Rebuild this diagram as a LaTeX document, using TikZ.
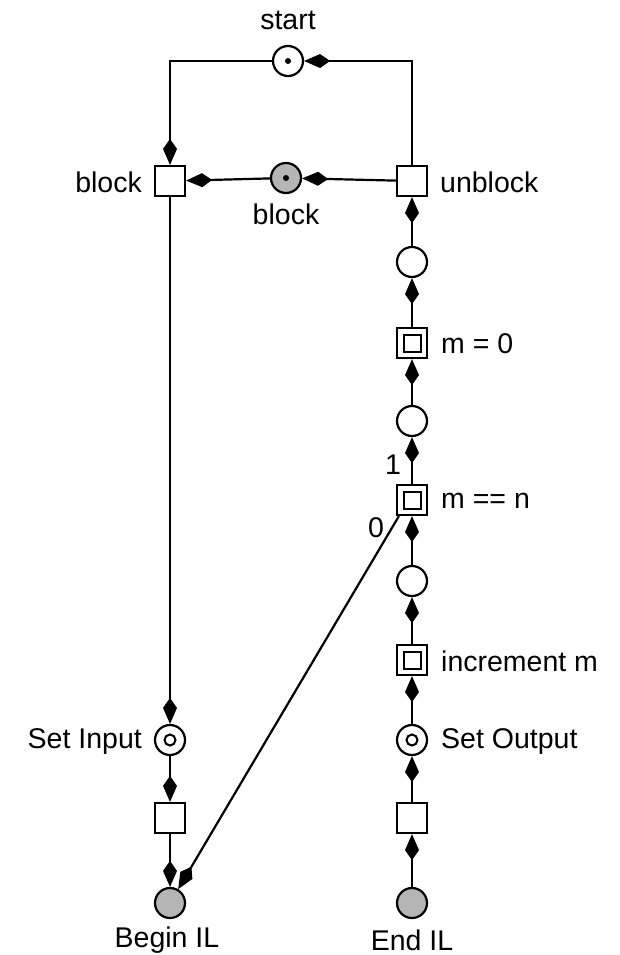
\documentclass[tikz,border=0pt]{standalone}
\usepackage{fontspec}
\setmainfont{Liberation Sans}
\usetikzlibrary{arrows.meta}
\begin{document}
\begin{tikzpicture}[x=1pt,y=-1pt,
  every node/.style={font=\fontsize{28.5}{32}\selectfont, inner sep=0pt},
  place/.style={circle, draw, line width=2.2pt, minimum size=30pt, inner sep=0pt},
  gplace/.style={place, fill=black!29},
  tokplace/.style={place, path picture={\fill[black] (path picture bounding box.center) circle (3pt);}},
  ringplace/.style={place, path picture={\draw[line width=2pt] (path picture bounding box.center) circle (5.5pt);}},
  trans/.style={rectangle, draw, line width=2.2pt, minimum size=30pt, inner sep=0pt},
  dtrans/.style={trans, path picture={\draw[line width=2pt] ([shift={(-8.5pt,-8.5pt)}]path picture bounding box.center) rectangle ([shift={(8.5pt,8.5pt)}]path picture bounding box.center);}},
  arr/.style={draw, line width=2.2pt, -{Kite[length=26pt 0 0,width=14pt 0 0,inset=10pt 0 0]}},
  lbl/.style={}
]
\useasboundingbox (0,0) rectangle (619,955);
% places and transitions
\node[tokplace] (start) at (288,61) {};
\node[trans] (blockT) at (170,181) {};
\node[tokplace, fill=black!29] (blockP) at (286,178) {};
\node[trans] (unblock) at (412,181) {};
\node[place] (p1) at (412,262) {};
\node[dtrans] (mz) at (412,343) {};
\node[place] (p2) at (412,421) {};
\node[dtrans] (mn) at (412,500) {};
\node[place] (p3) at (412,581) {};
\node[dtrans] (inc) at (412,660) {};
\node[ringplace] (setout) at (412,740) {};
\node[trans] (t2) at (412,818) {};
\node[gplace] (endil) at (412,903) {};
\node[ringplace] (setin) at (170,740) {};
\node[trans] (t1) at (170,818) {};
\node[gplace] (beginil) at (170,903) {};
% labels
\node[lbl] (lstart) at (288,20) {start};
\node[lbl, anchor=east] (lblockT) at (142,182) {block};
\node[lbl] (lblockP) at (286,214) {block};
\node[lbl, anchor=west] (lunblock) at (440,182) {unblock};
\node[lbl, anchor=west] (lmz) at (441,344) {m = 0};
\node[lbl, anchor=west] (lmn) at (441,501) {m == n};
\node[lbl, anchor=west] (linc) at (441,661) {increment m};
\node[lbl, anchor=west] (lsetout) at (441,741) {Set Output};
\node[lbl, anchor=east] (lsetin) at (142,741) {Set Input};
\node[lbl] (lbegin) at (167,940) {Begin IL};
\node[lbl] (lend) at (412,940) {End IL};
\node[lbl] (lone) at (393,465) {1};
\node[lbl] (lzero) at (376,528) {0};
% connectors
\draw[arr] (unblock.north) |- (start);
\draw[arr] (start) -| (blockT.north);
\draw[arr] (unblock) -- (blockP);
\draw[arr] (blockP) -- (blockT);
\draw[arr] (blockT) -- (setin);
\draw[arr] (setin) -- (t1);
\draw[arr] (t1) -- (beginil);
\draw[arr] ([xshift=3pt]mn.south west) -- (beginil);
\draw[arr] (endil) -- (t2);
\draw[arr] (t2) -- (setout);
\draw[arr] (setout) -- (inc);
\draw[arr] (inc) -- (p3);
\draw[arr] (p3) -- (mn);
\draw[arr] (mn) -- (p2);
\draw[arr] (p2) -- (mz);
\draw[arr] (mz) -- (p1);
\draw[arr] (p1) -- (unblock);
\end{tikzpicture}
\end{document}
